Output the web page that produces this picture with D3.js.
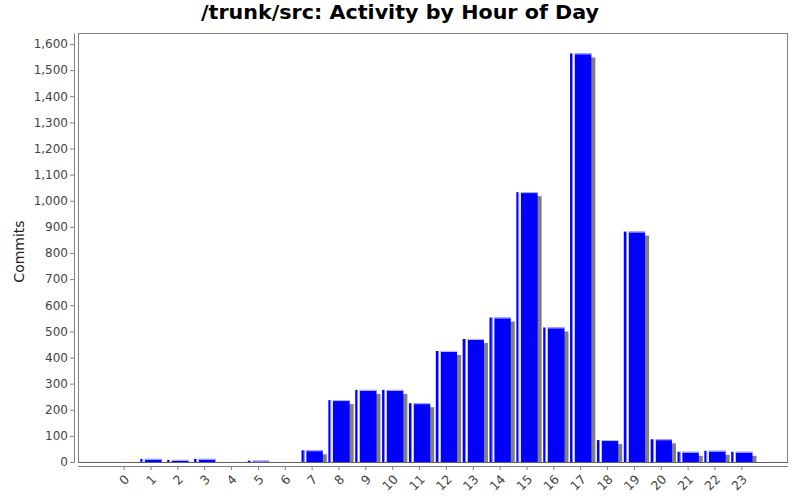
<!DOCTYPE html>
<html>
<head>
<meta charset="utf-8">
<script src="https://cdn.jsdelivr.net/npm/d3@7"></script>
<style>
  body { margin: 0; background: #fff; }
  text { font-family: "DejaVu Sans", sans-serif; }
</style>
</head>
<body>
<svg id="chart"></svg>
<script>
// Commits per hour of day
const HOURS = ['0','1','2','3','4','5','6','7','8','9','10','11',
               '12','13','14','15','16','17','18','19','20','21','22','23'];
const COMMITS = [0, 12, 8, 12, 0, 5, 0, 45, 237, 276, 276, 225,
                 425, 471, 553, 1033, 515, 1564, 84, 882, 87, 39, 43, 39];
const Y_TICKS = [0, 100, 200, 300, 400, 500, 600, 700, 800, 900, 1000,
                 1100, 1200, 1300, 1400, 1500, 1600];

const W = 800, H = 500;
const PLOT = { left: 78, right: 788, top: 33, bottom: 462 };
const iW = PLOT.right - PLOT.left;

const svg = d3.select('#chart').attr('width', W).attr('height', H);

// gradient giving the highlight stripe near the left edge of each bar
const grad = svg.append('defs').append('linearGradient')
    .attr('id', 'bar-grad').attr('x1', 0).attr('x2', 1).attr('y1', 0).attr('y2', 0);
[[0, '#0000ff'], [0.09, '#0000ff'], [0.1, '#8080ff'], [0.14, '#8080ff'],
 [0.15, '#ffffff'], [0.19, '#ffffff'], [0.2, '#c0c0ff'], [0.23, '#c0c0ff'],
 [0.24, '#0000ff'], [1, '#0000ff']]
    .forEach(([o, c]) => grad.append('stop').attr('offset', o).attr('stop-color', c));

svg.append('clipPath').attr('id', 'plot-clip')
    .append('rect').attr('x', PLOT.left).attr('y', PLOT.top)
    .attr('width', iW).attr('height', PLOT.bottom - PLOT.top);

// ── Scales ────────────────────────────────────────────────────────────────
const margin = iW * 0.05;
const x = d3.scaleBand().domain(HOURS)
    .range([PLOT.left + margin, PLOT.right - margin])
    .paddingInner(0.207).paddingOuter(0);
const y = d3.scaleLinear()
    .domain([0, d3.max(COMMITS) * 1.05])
    .range([PLOT.bottom, PLOT.top]);

// Title
svg.append('text')
    .attr('x', W / 2).attr('y', 19)
    .attr('text-anchor', 'middle').attr('font-size', '19px').attr('font-weight', 'bold')
    .attr('textLength', 398).attr('lengthAdjust', 'spacingAndGlyphs')
    .attr('fill', '#000')
    .text('/trunk/src: Activity by Hour of Day');

// Plot outline
svg.append('rect')
    .attr('x', PLOT.left + 0.5).attr('y', PLOT.top + 0.5)
    .attr('width', iW - 1).attr('height', PLOT.bottom - PLOT.top)
    .attr('fill', '#fff').attr('stroke', '#808080').attr('stroke-width', 1);

// ── Bars ──────────────────────────────────────────────────────────────────
const barsG = svg.append('g').attr('clip-path', 'url(#plot-clip)');
const data = HOURS.map((h, i) => ({ hour: h, value: COMMITS[i] }));

barsG.selectAll('.shadow').data(data.filter(d => d.value > 0)).join('rect')
    .attr('class', 'shadow')
    .attr('x', d => x(d.hour) + 4)
    .attr('y', d => y(d.value) + 4)
    .attr('width', x.bandwidth())
    .attr('height', d => Math.max(0, y(0) - y(d.value) - 4))
    .attr('fill', '#808080');

barsG.selectAll('.bar').data(data.filter(d => d.value > 0)).join('rect')
    .attr('class', 'bar')
    .attr('x', d => x(d.hour))
    .attr('y', d => y(d.value))
    .attr('width', x.bandwidth())
    .attr('height', d => y(0) - y(d.value))
    .attr('fill', 'url(#bar-grad)');

barsG.selectAll('.bar-top').data(data.filter(d => d.value > 0)).join('rect')
    .attr('class', 'bar-top')
    .attr('x', d => x(d.hour) + x.bandwidth() * 0.2)
    .attr('y', d => y(d.value))
    .attr('width', x.bandwidth() * 0.8)
    .attr('height', 1)
    .attr('fill', '#c0c0ff');

// zero baseline
svg.append('line')
    .attr('x1', PLOT.left).attr('x2', PLOT.right)
    .attr('y1', PLOT.bottom + 0.5).attr('y2', PLOT.bottom + 0.5)
    .attr('stroke', '#606060');

// ── Axes ──────────────────────────────────────────────────────────────────
const yAxis = svg.append('g').attr('transform', `translate(${PLOT.left - 4},0)`)
    .call(d3.axisLeft(y).tickValues(Y_TICKS).tickFormat(d3.format(',')).tickSize(4).tickSizeOuter(0));
yAxis.select('.domain').attr('stroke', '#808080');
yAxis.selectAll('.tick line').attr('stroke', '#808080');
yAxis.selectAll('.tick text').attr('fill', '#444').attr('font-size', '12px')
    .attr('font-family', '"DejaVu Sans", sans-serif').attr('x', -6);

const xAxis = svg.append('g').attr('transform', `translate(0,${PLOT.bottom + 4})`)
    .call(d3.axisBottom(x).tickSize(4).tickSizeOuter(0));
xAxis.select('.domain').attr('stroke', '#808080').attr('d', `M${PLOT.left},0.5H${PLOT.right}`);
xAxis.selectAll('.tick line').attr('stroke', '#808080');
xAxis.selectAll('.tick text')
    .attr('fill', '#444').attr('font-size', '12.5px')
    .attr('font-family', '"DejaVu Sans", sans-serif')
    .attr('text-anchor', 'end').attr('dy', '0.35em')
    .attr('transform', 'translate(3,11) rotate(-45)')
    .attr('y', 0).attr('x', 0);

// Y axis label
svg.append('text')
    .attr('transform', `translate(24,${(PLOT.top + PLOT.bottom) / 2 + 4}) rotate(-90)`)
    .attr('text-anchor', 'middle').attr('font-size', '14px').attr('fill', '#222')
    .text('Commits');
</script>
</body>
</html>
